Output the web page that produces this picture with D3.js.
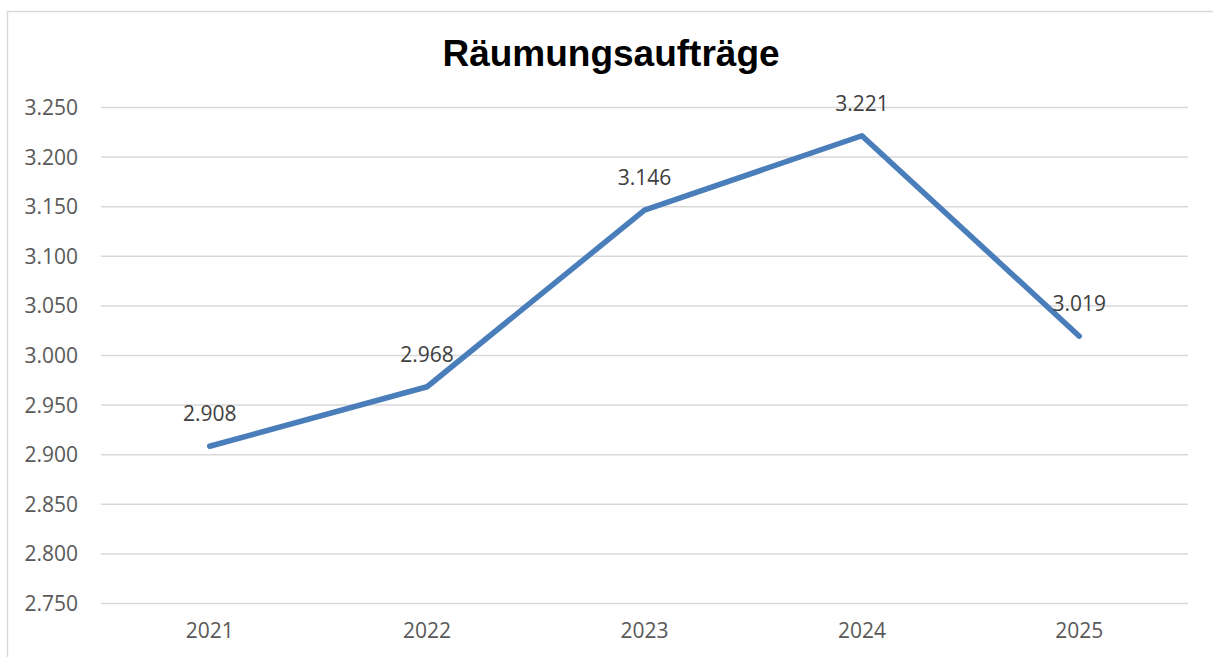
<!DOCTYPE html>
<html><head><meta charset="utf-8">
<script src="https://cdn.jsdelivr.net/npm/d3@7"></script>
<style>html,body{margin:0;padding:0;background:#fff;}</style>
</head><body>
<script>
const title = "Räumungsaufträge";
const years = ["2021","2022","2023","2024","2025"];
const values = [2908, 2968, 3146, 3221, 3019];
const yTicks = [2750,2800,2850,2900,2950,3000,3050,3100,3150,3200,3250];

const W = 1213, H = 657;
const svg = d3.select("body").append("svg").attr("width", W).attr("height", H);
const fontFam = "'Open Sans', 'Liberation Sans', sans-serif";
const fmt = v => d3.format(",")(v).replace(/,/g, ".");

// outer border
svg.append("rect").attr("x", 7.5).attr("y", 11.5).attr("width", 1220).attr("height", 660)
  .attr("fill", "none").attr("stroke", "#d9d9d9").attr("stroke-width", 1.5);

const pLeft = 101, pRight = 1188, pTop = 107, pBottom = 603;
const x = d3.scaleBand().domain(years).range([pLeft, pRight]);
const y = d3.scaleLinear().domain([2750, 3250]).range([pBottom, pTop]);

// gridlines + y labels
const yAxis = d3.axisLeft(y).tickValues(yTicks).tickSize(-(pRight - pLeft)).tickPadding(23).tickFormat(fmt);
const gy = svg.append("g").attr("transform", `translate(${pLeft},0)`).call(yAxis);
gy.select(".domain").remove();
gy.selectAll(".tick line").attr("stroke", "#d9d9d9").attr("stroke-width", 1.5);
gy.selectAll(".tick text").attr("fill", "#595959").attr("font-family", fontFam)
  .attr("font-size", 21).attr("dy", "0.36em");

const xAxis = d3.axisBottom(x).tickSize(0).tickPadding(20);
const gx = svg.append("g").attr("transform", `translate(0,${pBottom})`).call(xAxis);
gx.select(".domain").remove();
gx.selectAll(".tick text").attr("fill", "#595959").attr("font-family", fontFam)
  .attr("font-size", 21).attr("dy", "0.71em");

// line
const cx = d => x(d) + x.bandwidth() / 2;
const line = d3.line().x((d, i) => cx(years[i])).y(d => y(d));
svg.append("path").datum(values).attr("d", line).attr("fill", "none")
  .attr("stroke", "#4a7ebb").attr("stroke-width", 5.5)
  .attr("stroke-linejoin", "round").attr("stroke-linecap", "round");

// data labels
svg.append("g").selectAll("text").data(values).join("text")
  .attr("x", (d, i) => cx(years[i]))
  .attr("y", d => y(d) - 25)
  .attr("text-anchor", "middle")
  .attr("fill", "#404040").attr("font-family", fontFam).attr("font-size", 21)
  .text(fmt);

// title
svg.append("text").attr("x", 611).attr("y", 66).attr("text-anchor", "middle")
  .attr("font-family", "'Liberation Sans', Arial, sans-serif").attr("font-weight", "bold")
  .attr("font-size", 37).attr("fill", "#000").text(title);
</script>
</body></html>
